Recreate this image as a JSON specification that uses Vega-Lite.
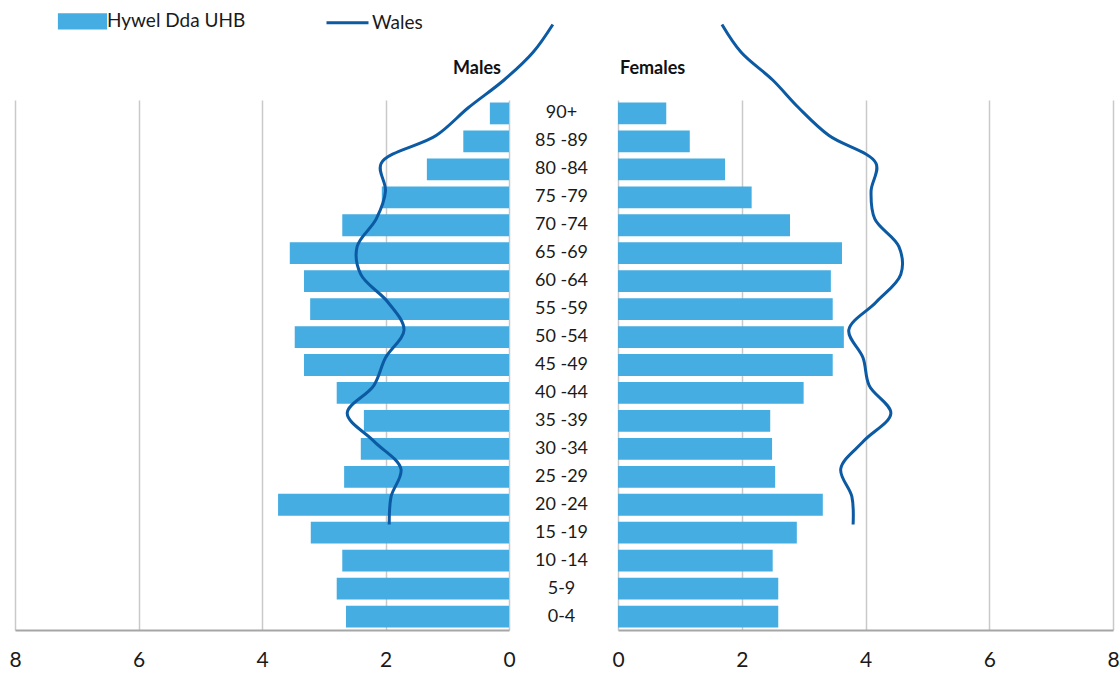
{
  "$schema": "https://vega.github.io/schema/vega-lite/v6.json",
  "padding": {"left": 8, "top": 11, "right": 0, "bottom": 0},
  "background": "white",
  "bounds": "flush",
  "spacing": 109,
  "config": {
    "font": "Lato",
    "view": {"stroke": null},
    "axis": {"labelFont": "Lato", "labelColor": "#1a1a1a"},
    "title": {"font": "Lato", "color": "#111111"}
  },
  "datasets": {
    "pop": [
      {"age": "0-4", "age_start": 0, "hdd_male": 2.64, "hdd_female": 2.59, "wales_male": 1.94, "wales_female": 3.80},
      {"age": "5-9", "age_start": 5, "hdd_male": 2.79, "hdd_female": 2.59, "wales_male": 1.91, "wales_female": 3.78},
      {"age": "10 -14", "age_start": 10, "hdd_male": 2.70, "hdd_female": 2.50, "wales_male": 1.75, "wales_female": 3.60},
      {"age": "15 -19", "age_start": 15, "hdd_male": 3.21, "hdd_female": 2.89, "wales_male": 2.19, "wales_female": 3.97},
      {"age": "20 -24", "age_start": 20, "hdd_male": 3.74, "hdd_female": 3.31, "wales_male": 2.62, "wales_female": 4.41},
      {"age": "25 -29", "age_start": 25, "hdd_male": 2.67, "hdd_female": 2.54, "wales_male": 2.19, "wales_female": 4.06},
      {"age": "30 -34", "age_start": 30, "hdd_male": 2.40, "hdd_female": 2.49, "wales_male": 2.00, "wales_female": 3.96},
      {"age": "35 -39", "age_start": 35, "hdd_male": 2.35, "hdd_female": 2.46, "wales_male": 1.70, "wales_female": 3.73},
      {"age": "40 -44", "age_start": 40, "hdd_male": 2.79, "hdd_female": 3.00, "wales_male": 1.96, "wales_female": 4.17},
      {"age": "45 -49", "age_start": 45, "hdd_male": 3.32, "hdd_female": 3.47, "wales_male": 2.40, "wales_female": 4.57},
      {"age": "50 -54", "age_start": 50, "hdd_male": 3.47, "hdd_female": 3.65, "wales_male": 2.46, "wales_female": 4.54},
      {"age": "55 -59", "age_start": 55, "hdd_male": 3.22, "hdd_female": 3.47, "wales_male": 2.15, "wales_female": 4.15},
      {"age": "60 -64", "age_start": 60, "hdd_male": 3.32, "hdd_female": 3.44, "wales_male": 2.00, "wales_female": 4.09},
      {"age": "65 -69", "age_start": 65, "hdd_male": 3.55, "hdd_female": 3.62, "wales_male": 2.07, "wales_female": 4.17},
      {"age": "70 -74", "age_start": 70, "hdd_male": 2.70, "hdd_female": 2.78, "wales_male": 1.18, "wales_female": 3.41},
      {"age": "75 -79", "age_start": 75, "hdd_male": 2.06, "hdd_female": 2.16, "wales_male": 0.66, "wales_female": 2.92},
      {"age": "80 -84", "age_start": 80, "hdd_male": 1.33, "hdd_female": 1.73, "wales_male": 0.08, "wales_female": 2.50},
      {"age": "85 -89", "age_start": 85, "hdd_male": 0.74, "hdd_female": 1.16, "wales_male": -0.39, "wales_female": 1.99},
      {"age": "90+", "age_start": 90, "hdd_male": 0.31, "hdd_female": 0.78, "wales_male": -0.71, "wales_female": 1.68}
    ]
  },
  "data": {"name": "pop"},
  "hconcat": [
    {
      "width": 494,
      "height": 530,
      "title": {"text": "Males", "anchor": "end", "frame": "group", "fontSize": 18, "fontWeight": "bold", "offset": -60, "dx": -8},
      "layer": [
        {
          "mark": {"type": "bar"},
          "encoding": {
            "y": {
              "field": "age", "type": "nominal",
              "scale": {"domain": ["90+", "85 -89", "80 -84", "75 -79", "70 -74", "65 -69", "60 -64", "55 -59", "50 -54", "45 -49", "40 -44", "35 -39", "30 -34", "25 -29", "20 -24", "15 -19", "10 -14", "5-9", "0-4"], "paddingInner": 0.22, "paddingOuter": 0.09},
              "axis": {"orient": "right", "title": null, "ticks": false, "tickSize": 0, "domain": false, "grid": false, "labelAlign": "center", "labelPadding": 52, "labelFontSize": 18}
            },
            "x": {
              "field": "hdd_male", "type": "quantitative",
              "scale": {"domain": [0, 8], "reverse": true, "nice": false},
              "axis": {"title": null, "values": [0, 2, 4, 6, 8], "format": "d", "grid": true, "gridColor": "#c9c9c9", "gridWidth": 1.5, "ticks": false, "domainColor": "#a6a6a6", "domainWidth": 2, "labelFontSize": 21, "labelPadding": 19, "labelFlush": false, "labelOverlap": false}
            },
            "color": {
              "datum": "Hywel Dda UHB", "type": "nominal",
              "scale": {"domain": ["Hywel Dda UHB", "Wales"], "range": ["#45ADE2", "#0B5AA3"]},
              "legend": {
                "orient": "none", "legendX": 58, "legendY": -88.5, "direction": "horizontal", "columns": 2,
                "title": null, "labelFontSize": 19, "labelColor": "#1a1a1a", "columnPadding": 74,
                "symbolSize": 196, "labelOffset": 15, "padding": 0,
                "encode": {
                  "symbols": {
                    "update": {
                      "shape": {"signal": "datum.value === 'Wales' ? 'M-3.0,0H3.0' : 'M-3.3,-0.95H3.3V0.95H-3.3Z'"},
                      "fill": {"signal": "datum.value === 'Wales' ? 'transparent' : '#45ADE2'"},
                      "stroke": {"signal": "datum.value === 'Wales' ? '#0B5AA3' : 'transparent'"},
                      "strokeWidth": {"value": 3},
                      "opacity": {"value": 1}
                    }
                  }
                }
              }
            }
          }
        },
        {
          "mark": {"type": "line", "interpolate": "catmull-rom", "strokeWidth": 3, "clip": false},
          "encoding": {
            "y": {"field": "age_start", "type": "quantitative", "scale": {"domain": [-19, 76.4], "nice": false, "zero": false}, "axis": null},
            "x": {"field": "wales_male", "type": "quantitative"},
            "order": {"field": "age_start", "type": "quantitative"},
            "color": {"datum": "Wales", "type": "nominal"}
          }
        }
      ],
      "resolve": {"scale": {"y": "independent"}}
    },
    {
      "width": 495,
      "height": 530,
      "title": {"text": "Females", "anchor": "start", "frame": "group", "fontSize": 18, "fontWeight": "bold", "offset": -60, "dx": 2},
      "layer": [
        {
          "mark": {"type": "bar"},
          "encoding": {
            "y": {
              "field": "age", "type": "nominal",
              "scale": {"domain": ["90+", "85 -89", "80 -84", "75 -79", "70 -74", "65 -69", "60 -64", "55 -59", "50 -54", "45 -49", "40 -44", "35 -39", "30 -34", "25 -29", "20 -24", "15 -19", "10 -14", "5-9", "0-4"], "paddingInner": 0.22, "paddingOuter": 0.09},
              "axis": null
            },
            "x": {
              "field": "hdd_female", "type": "quantitative",
              "scale": {"domain": [0, 8], "nice": false},
              "axis": {"title": null, "values": [0, 2, 4, 6, 8], "format": "d", "grid": true, "gridColor": "#c9c9c9", "gridWidth": 1.5, "ticks": false, "domainColor": "#a6a6a6", "domainWidth": 2, "labelFontSize": 21, "labelPadding": 19, "labelFlush": false, "labelOverlap": false}
            },
            "color": {"datum": "Hywel Dda UHB", "type": "nominal"}
          }
        },
        {
          "mark": {"type": "line", "interpolate": "catmull-rom", "strokeWidth": 3, "clip": false},
          "encoding": {
            "y": {"field": "age_start", "type": "quantitative", "scale": {"domain": [-19, 76.4], "nice": false, "zero": false}, "axis": null},
            "x": {"field": "wales_female", "type": "quantitative"},
            "order": {"field": "age_start", "type": "quantitative"},
            "color": {"datum": "Wales", "type": "nominal"}
          }
        }
      ],
      "resolve": {"scale": {"y": "independent"}}
    }
  ]
}
